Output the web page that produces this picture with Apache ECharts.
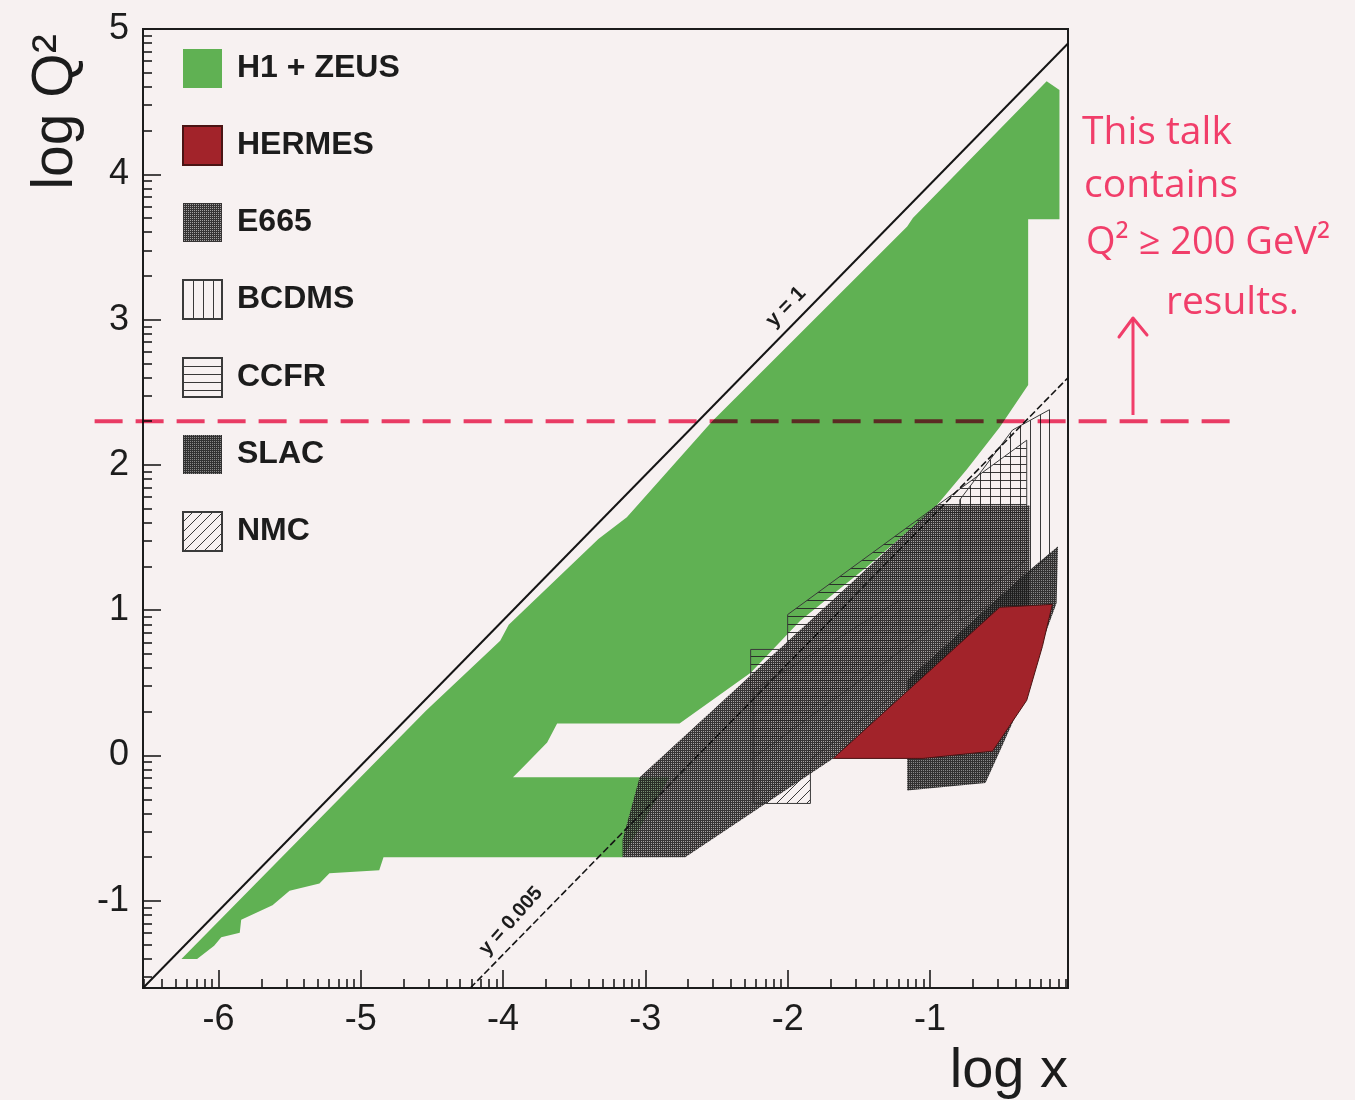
<!DOCTYPE html>
<html>
<head>
<meta charset="utf-8">
<script src="https://cdn.jsdelivr.net/npm/echarts@6/dist/echarts.min.js"></script>
<style>
  html, body { margin: 0; padding: 0; background: #f7f1f1; }
  #chart { width: 1355px; height: 1100px; }
</style>
</head>
<body>
<div id="chart"></div>
<script>
// ---------------- data ----------------
const xTickLabels = [-6, -5, -4, -3, -2, -1];
const yTickLabels = [-1, 0, 1, 2, 3, 4, 5];
const legendNames = ['H1 + ZEUS', 'HERMES', 'E665', 'BCDMS', 'CCFR', 'SLAC', 'NMC'];

// region outlines, [log x, log Q^2]
const h1zeus = [
  [-6.26, -1.40], [-6.15, -1.40], [-6.03, -1.31], [-5.98, -1.25], [-5.85, -1.22],
  [-5.84, -1.13], [-5.62, -1.03], [-5.50, -0.93], [-5.29, -0.88], [-5.22, -0.81],
  [-4.87, -0.79], [-4.84, -0.70], [-3.16, -0.70], [-2.83, -0.15], [-3.93, -0.15],
  [-3.86, -0.08], [-3.69, 0.09], [-3.62, 0.22], [-2.76, 0.22], [-2.26, 0.57],
  [-1.91, 0.93], [-1.44, 1.30], [-0.98, 1.69], [-0.74, 1.97], [-0.51, 2.26],
  [-0.31, 2.55], [-0.31, 3.69], [-0.09, 3.69], [-0.09, 4.58], [-0.18, 4.64],
  [-1.12, 3.70], [-1.16, 3.64], [-2.53, 2.30], [-3.13, 1.64], [-3.33, 1.49],
  [-3.96, 0.90], [-4.02, 0.79], [-4.54, 0.31]
];
const hermes = [
  [-1.68, -0.02], [-1.05, -0.02], [-0.56, 0.03], [-0.32, 0.38],
  [-0.21, 0.75], [-0.14, 1.04], [-0.51, 1.02]
];
const e665 = [
  [-3.16, -0.70], [-2.72, -0.70], [-1.68, -0.02], [-0.30, 0.87], [-0.30, 1.72],
  [-0.96, 1.72], [-2.24, 0.57], [-3.04, -0.15], [-3.16, -0.58]
];
const slac = [
  [-1.16, -0.24], [-0.61, -0.19], [-0.49, 0.07], [-0.35, 0.38], [-0.23, 0.73],
  [-0.11, 1.05], [-0.10, 1.44], [-0.32, 1.26], [-1.16, 0.52]
];
const bcdms = [
  [-0.79, 1.76], [-0.42, 2.24], [-0.16, 2.38], [-0.16, 1.38], [-0.51, 1.07], [-0.79, 0.93]
];
const ccfr = [
  [-2.26, -0.03], [-2.26, 0.73], [-2.00, 0.73], [-2.00, 0.97], [-0.32, 2.17], [-0.32, 1.35]
];
const nmc = [
  [-2.24, -0.33], [-1.84, -0.33], [-1.84, -0.03], [-1.21, 0.45], [-1.21, 1.07], [-2.24, 0.45]
];

// kinematic lines and the hand-drawn cut (log Q^2 = log 200)
const lineY1 = [[-6.53, -1.60], [-0.03, 4.90]];
const lineY005 = [[-4.23, -1.60], [-0.03, 2.60]];
const cutLine = [[-6.87, 2.30], [1.18, 2.30]];
const noteLines = ['This talk', 'contains', 'Q\u00b2 \u2265 200 GeV\u00b2', 'results.'];

// ---------------- helpers ----------------
const FONT = "'Liberation Sans', Arial, Helvetica, sans-serif";
const HAND = "'Open Sans', 'Noto Sans', sans-serif";
const INK = '#1c1c1c';
const PINK = 'rgba(240,52,98,0.95)';

function logMinor(lo, hi) {
  const out = [];
  for (let n = Math.floor(lo) - 1; n <= Math.ceil(hi); n++) {
    for (let k = 2; k <= 9; k++) {
      const v = n + Math.log10(k);
      if (v > lo && v < hi) out.push(+v.toFixed(4));
    }
  }
  return out;
}
function makePattern(w, h, draw) {
  const c = document.createElement('canvas');
  c.width = w; c.height = h;
  draw(c.getContext('2d'), w, h);
  return { image: c, repeat: 'repeat' };
}
const patE665 = makePattern(2, 2, g => {
  g.fillStyle = 'rgba(38,36,36,0.92)'; g.fillRect(0, 0, 2, 2);
  g.clearRect(1, 1, 1, 1);
  g.fillStyle = 'rgba(130,128,128,0.7)'; g.fillRect(1, 1, 1, 1);
});
const patSLAC = makePattern(2, 2, g => {
  g.fillStyle = 'rgba(28,28,28,0.9)'; g.fillRect(0, 0, 2, 2);
  g.clearRect(1, 0, 1, 1);
  g.fillStyle = 'rgba(100,100,100,0.75)'; g.fillRect(1, 0, 1, 1);
});
const patVert = makePattern(10, 10, g => {
  g.fillStyle = 'rgba(35,35,35,0.9)'; g.fillRect(0, 0, 1, 10);
});
const patHorz = makePattern(8, 8, g => {
  g.fillStyle = 'rgba(35,35,35,0.9)'; g.fillRect(0, 0, 8, 1);
});
const patDiag = makePattern(10, 10, g => {
  g.fillStyle = 'rgba(35,35,35,0.9)';
  for (let i = 0; i < 10; i++) g.fillRect(i, 9 - i, 1, 1);
});

function region(name, pts, fill, stroke, lw) {
  return {
    type: 'custom', name, coordinateSystem: 'cartesian2d',
    xAxisIndex: 0, yAxisIndex: 0, data: pts, silent: true,
    itemStyle: { color: fill, borderColor: stroke || 'rgba(0,0,0,0)', borderWidth: stroke ? lw : 0 },
    renderItem(params, api) {
      if (params.dataIndex !== 0) return;
      return {
        type: 'polygon',
        shape: { points: pts.map(p => api.coord(p)) },
        style: { fill: fill, stroke: stroke || null, lineWidth: stroke ? lw : 0 }
      };
    }
  };
}

const xMin = -6.53, xMax = -0.03, yMin = -1.6, yMax = 5;
const xMinor = logMinor(xMin, xMax);
const yMinor = logMinor(yMin, yMax);

const axisLineStyle = { color: INK, width: 2 };
const tickLineStyle = { color: INK, width: 1.6 };

const chart = echarts.init(document.getElementById('chart'), null, { renderer: 'canvas' });

chart.setOption({
  backgroundColor: '#f7f1f1',
  animation: false,
  grid: {
    left: 143, top: 29, width: 925, height: 959,
    show: true, borderColor: INK, borderWidth: 2, backgroundColor: 'rgba(0,0,0,0)',
    outerBoundsMode: 'none'
  },
  legend: {
    data: legendNames,
    orient: 'vertical', left: 177, top: 44, padding: 5,
    itemWidth: 39, itemHeight: 39, itemGap: 37,
    icon: 'rect', selectedMode: false,
    textStyle: { fontFamily: FONT, fontWeight: 'bold', fontSize: 32, color: INK, padding: [0, 0, 0, 10] }
  },
  xAxis: [
    {
      type: 'value', min: xMin, max: xMax, position: 'bottom',
      axisLine: { onZero: false, lineStyle: axisLineStyle },
      axisTick: { inside: true, length: 18, customValues: xTickLabels, lineStyle: tickLineStyle },
      axisLabel: { customValues: xTickLabels, fontFamily: FONT, fontSize: 36, color: INK, margin: 14 },
      splitLine: { show: false }
    },
    {
      type: 'value', min: xMin, max: xMax, position: 'bottom',
      axisLine: { show: false, onZero: false },
      axisTick: { inside: true, length: 9, customValues: xMinor, lineStyle: tickLineStyle },
      axisLabel: { show: false }, splitLine: { show: false }
    }
  ],
  yAxis: [
    {
      type: 'value', min: yMin, max: yMax, position: 'left',
      axisLine: { onZero: false, lineStyle: axisLineStyle },
      axisTick: { inside: true, length: 18, customValues: yTickLabels, lineStyle: tickLineStyle },
      axisLabel: { customValues: yTickLabels, fontFamily: FONT, fontSize: 36, color: INK, margin: 14 },
      splitLine: { show: false }
    },
    {
      type: 'value', min: yMin, max: yMax, position: 'left',
      axisLine: { show: false, onZero: false },
      axisTick: { inside: true, length: 9, customValues: yMinor, lineStyle: tickLineStyle },
      axisLabel: { show: false }, splitLine: { show: false }
    }
  ],
  series: [
    region('H1 + ZEUS', h1zeus, '#60b153', null, 0),
    region('CCFR', ccfr, patHorz, '#3a3a3a', 1),
    region('BCDMS', bcdms, patVert, '#3a3a3a', 1),
    region('NMC', nmc, patDiag, '#3a3a3a', 1),
    region('E665', e665, patE665, null, 0),
    region('SLAC', slac, patSLAC, null, 0),
    region('HERMES', hermes, '#a2232a', '#4a1414', 1),
    {
      type: 'line', name: 'y = 1', data: lineY1, symbol: 'none', silent: true, z: 3,
      lineStyle: { color: '#151515', width: 2 }
    },
    {
      type: 'line', name: 'y = 0.005', data: lineY005, symbol: 'none', silent: true, z: 3,
      lineStyle: { color: '#151515', width: 1.6, type: [7, 3] }
    }
  ]
});

// hand-drawn overlay: the cut line extends beyond the frame, so extrapolate the x scale
const c0 = chart.convertToPixel({ xAxisIndex: 0, yAxisIndex: 0 }, [xMin, cutLine[0][1]]);
const c1 = chart.convertToPixel({ xAxisIndex: 0, yAxisIndex: 0 }, [xMax, cutLine[1][1]]);
const kx = (c1[0] - c0[0]) / (xMax - xMin);
const cx0 = c0[0] + (cutLine[0][0] - xMin) * kx;
const cx1 = c0[0] + (cutLine[1][0] - xMin) * kx;

function note(text, x, y, size) {
  return { type: 'text', x, y, silent: true, z: 100,
    style: { text, fontFamily: HAND, fontSize: size, fill: PINK, textAlign: 'left', textVerticalAlign: 'middle', align: 'left', verticalAlign: 'middle' } };
}

chart.setOption({
  graphic: { elements: [
    { type: 'text', x: 56, y: 112, rotation: Math.PI / 2, silent: true,
      style: { text: 'log Q\u00b2', fontFamily: FONT, fontSize: 57, fill: INK, textAlign: 'center', textVerticalAlign: 'middle', align: 'center', verticalAlign: 'middle' } },
    { type: 'text', x: 1068, y: 1072, silent: true,
      style: { text: 'log x', fontFamily: FONT, fontSize: 56, fill: INK, textAlign: 'right', textVerticalAlign: 'middle', align: 'right', verticalAlign: 'middle' } },
    { type: 'text', x: 786, y: 307, rotation: 0.8, silent: true,
      style: { text: 'y = 1', fontFamily: FONT, fontWeight: 'bold', fontSize: 21, fill: INK, textAlign: 'center', textVerticalAlign: 'middle', align: 'center', verticalAlign: 'middle' } },
    { type: 'text', x: 511, y: 921, rotation: 0.84, silent: true,
      style: { text: 'y = 0.005', fontFamily: FONT, fontWeight: 'bold', fontSize: 20, fill: INK, textAlign: 'center', textVerticalAlign: 'middle', align: 'center', verticalAlign: 'middle' } },
    { type: 'line', silent: true, z: 50,
      shape: { x1: cx0, y1: c0[1], x2: cx1, y2: c0[1] },
      style: { stroke: PINK, lineWidth: 4, lineDash: [28, 13], blend: 'multiply' } },
    note(noteLines[0], 1082, 133, 39),
    note(noteLines[1], 1084, 186, 39),
    note(noteLines[2], 1086, 243, 38),
    note(noteLines[3], 1166, 303, 39),
    { type: 'polyline', silent: true, z: 100, shape: { points: [[1133, 415], [1133, 319]] },
      style: { stroke: PINK, lineWidth: 3, fill: null } },
    { type: 'polyline', silent: true, z: 100, shape: { points: [[1119, 337], [1133, 318], [1147, 335]] },
      style: { stroke: PINK, lineWidth: 3, fill: null, lineJoin: 'round', lineCap: 'round' } }
  ] }
});
</script>
</body>
</html>
